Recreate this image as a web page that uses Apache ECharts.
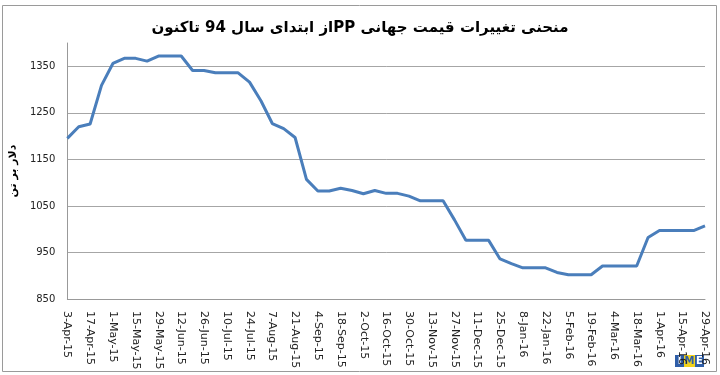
<!DOCTYPE html>
<html>
<head>
<meta charset="utf-8">
<script src="https://cdn.jsdelivr.net/npm/echarts@6/dist/echarts.min.js"></script>
<style>
html,body{margin:0;padding:0;background:#fff;}
#chart{width:720px;height:375px;}
</style>
</head>
<body>
<div id="chart"></div>
<script>
const titleText = 'منحنی تغییرات قیمت جهانی PPاز ابتدای سال 94 تاکنون';
const yAxisName = 'دلار بر تن';
const categories = [
  '3-Apr-15','10-Apr-15','17-Apr-15','24-Apr-15',
  '1-May-15','8-May-15','15-May-15','22-May-15','29-May-15',
  '5-Jun-15','12-Jun-15','19-Jun-15','26-Jun-15',
  '3-Jul-15','10-Jul-15','17-Jul-15','24-Jul-15','31-Jul-15',
  '7-Aug-15','14-Aug-15','21-Aug-15','28-Aug-15',
  '4-Sep-15','11-Sep-15','18-Sep-15','25-Sep-15',
  '2-Oct-15','9-Oct-15','16-Oct-15','23-Oct-15','30-Oct-15',
  '6-Nov-15','13-Nov-15','20-Nov-15','27-Nov-15',
  '4-Dec-15','11-Dec-15','18-Dec-15','25-Dec-15',
  '1-Jan-16','8-Jan-16','15-Jan-16','22-Jan-16','29-Jan-16',
  '5-Feb-16','12-Feb-16','19-Feb-16','26-Feb-16',
  '4-Mar-16','11-Mar-16','18-Mar-16','25-Mar-16',
  '1-Apr-16','8-Apr-16','15-Apr-16','22-Apr-16','29-Apr-16'
];
const prices = [
  1195,1220,1226,1309,
  1356,1367,1367,1361,1372,
  1372,1372,1341,1341,
  1336,1336,1336,1316,1276,
  1227,1216,1197,1107,
  1082,1082,1088,1083,
  1076,1083,1077,1077,1071,
  1061,1061,1061,1020,
  976,976,976,936,
  926,917,917,917,907,
  902,902,902,921,
  921,921,921,982,
  997,997,997,997,1007
];
const yMin = 850, yMax = 1400, yStep = 100;

const RLE = '\u202B', PDF = '\u202C';

const chart = echarts.init(document.getElementById('chart'));
chart.setOption({
  backgroundColor: '#fff',
  animation: false,
  title: {
    text: RLE + titleText + PDF,
    left: 'center',
    top: 16,
    textStyle: {fontFamily: 'DejaVu Sans', fontWeight: 'bold', fontSize: 15, color: '#000'}
  },
  grid: {left: 65, right: 15, top: 43, bottom: 76},
  xAxis: {
    type: 'category',
    data: categories,
    boundaryGap: false,
    axisLine: {lineStyle: {color: '#999', width: 1}},
    axisTick: {show: false},
    axisLabel: {
      interval: 1, rotate: -90, margin: 12,
      fontFamily: 'DejaVu Sans', fontSize: 11, color: '#222'
    },
    splitLine: {show: false}
  },
  yAxis: {
    type: 'value',
    min: yMin, max: yMax, interval: yStep,
    name: RLE + yAxisName + PDF,
    nameLocation: 'middle',
    nameGap: 48,
    nameRotate: 90,
    nameTextStyle: {fontFamily: 'DejaVu Sans', fontWeight: 'bold', fontSize: 11, color: '#000'},
    axisLine: {show: true, lineStyle: {color: '#999', width: 1}},
    axisTick: {show: false},
    axisLabel: {
      showMaxLabel: false, margin: 12,
      formatter: function (v) { return String(v); },
      fontFamily: 'DejaVu Sans', fontSize: 10, color: '#222'
    },
    splitLine: {show: true, showMaxLine: false, lineStyle: {color: '#a6a6a6', width: 1}}
  },
  series: [{
    type: 'line',
    data: prices,
    showSymbol: false,
    symbol: 'none',
    lineStyle: {color: '#4a7ebb', width: 3},
    itemStyle: {color: '#4a7ebb'}
  }],
  graphic: [
    {type: 'rect', silent: true, shape: {x: 2.5, y: 5.5, width: 714, height: 366},
     style: {fill: 'none', stroke: '#9a9a9a', lineWidth: 1}},
    {type: 'group', left: 675, top: 355, children: [
      {type: 'rect', shape: {x: 0, y: 0, width: 9, height: 12}, style: {fill: '#2f5ea8'}},
      {type: 'text', style: {x: 4.5, y: 6, text: 'I', fill: '#fff', font: 'bold 10px DejaVu Sans', align: 'center', verticalAlign: 'middle'}},
      {type: 'rect', shape: {x: 9, y: 0, width: 11, height: 12}, style: {fill: '#f2d21c'}},
      {type: 'text', style: {x: 14.5, y: 6, text: 'M', fill: '#2f5ea8', font: 'bold 10px DejaVu Sans', align: 'center', verticalAlign: 'middle'}},
      {type: 'rect', shape: {x: 20, y: 0, width: 9, height: 12}, style: {fill: '#2f5ea8'}},
      {type: 'text', style: {x: 24.5, y: 6, text: 'E', fill: '#fff', font: 'bold 10px DejaVu Sans', align: 'center', verticalAlign: 'middle'}}
    ]}
  ]
});
</script>
</body>
</html>
